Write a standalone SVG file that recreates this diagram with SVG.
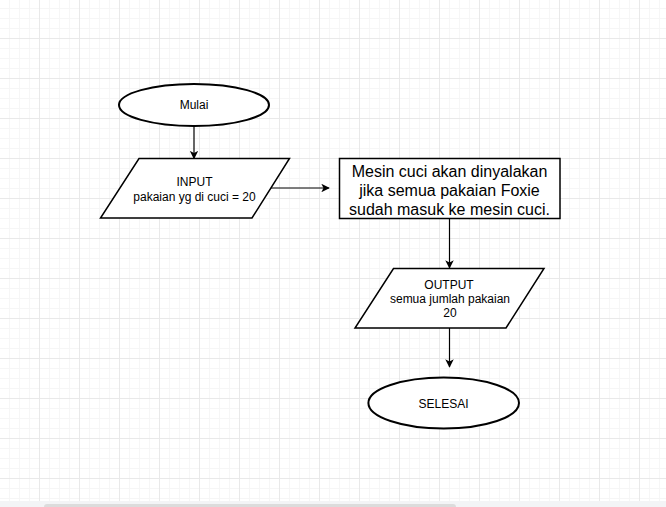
<svg xmlns="http://www.w3.org/2000/svg" width="666" height="507" viewBox="0 0 666 507">
<style>
.shape{fill:#ffffff;stroke:#000000;stroke-width:1.5}
.term{fill:#ffffff;stroke:#000000;stroke-width:2}
.edge{fill:none;stroke:#000000;stroke-width:1.2}
.t{font-family:"Liberation Sans",Arial,sans-serif;font-size:12px;fill:#000000;text-anchor:middle}
.tb{font-family:"Liberation Sans",Arial,sans-serif;font-size:16px;fill:#000000;text-anchor:middle}
</style>
<defs>
<pattern id="grid" x="0" y="0" width="40" height="40" patternUnits="userSpaceOnUse">
<path d="M9.5 0V40M19.5 0V40M29.5 0V40M0 8.5H40M0 18.5H40M0 28.5H40" stroke="#f6f6f6" stroke-width="1" fill="none"/>
<path d="M39.5 0V40M0 38.5H40" stroke="#e9e9e9" stroke-width="1" fill="none"/>
</pattern>
<marker id="arr" viewBox="0 0 10 10" refX="9" refY="5" markerWidth="8.5" markerHeight="8.5" markerUnits="userSpaceOnUse" orient="auto">
<path d="M0 0L10 5L0 10L2.5 5Z" fill="#000000"/>
</marker>
</defs>
<rect x="0" y="0" width="666" height="507" fill="#ffffff"/>
<rect x="0" y="0" width="666" height="501" fill="url(#grid)"/>
<rect x="0" y="501" width="666" height="6" fill="#f3f4f6"/>
<rect x="44" y="504" width="412" height="6" rx="3" fill="#dcdcdc"/>
<g id="connectors">
<path class="edge" d="M194 126V158.5" marker-end="url(#arr)"/>
<path class="edge" d="M271 188H329" marker-end="url(#arr)"/>
<path class="edge" d="M449.5 218.5V268" marker-end="url(#arr)"/>
<path class="edge" d="M449.5 328V367" marker-end="url(#arr)"/>
</g>
<g id="mulai">
<ellipse class="term" cx="194" cy="105" rx="75" ry="21"/>
<text class="t" x="194" y="109">Mulai</text>
</g>
<g id="input">
<polygon class="shape" points="139,158.5 289.5,158.5 252,218 100.5,218"/>
<text class="t" x="194.5" y="185.5">INPUT</text>
<text class="t" x="194.5" y="201">pakaian yg di cuci = 20</text>
</g>
<g id="proses">
<rect class="shape" x="339.5" y="158.5" width="220.5" height="60"/>
<text class="tb" x="449.5" y="177">Mesin cuci akan dinyalakan</text>
<text class="tb" x="449.5" y="196">jika semua pakaian Foxie</text>
<text class="tb" x="449.5" y="215">sudah masuk ke mesin cuci.</text>
</g>
<g id="output">
<polygon class="shape" points="393.5,268.5 544,268.5 506,328 355,328"/>
<text class="t" x="449" y="289">OUTPUT</text>
<text class="t" x="450" y="302.5">semua jumlah pakaian</text>
<text class="t" x="450" y="317">20</text>
</g>
<g id="selesai">
<ellipse class="term" cx="443.7" cy="403" rx="75.3" ry="25.5"/>
<text class="t" x="443.5" y="407.5">SELESAI</text>
</g>
</svg>
